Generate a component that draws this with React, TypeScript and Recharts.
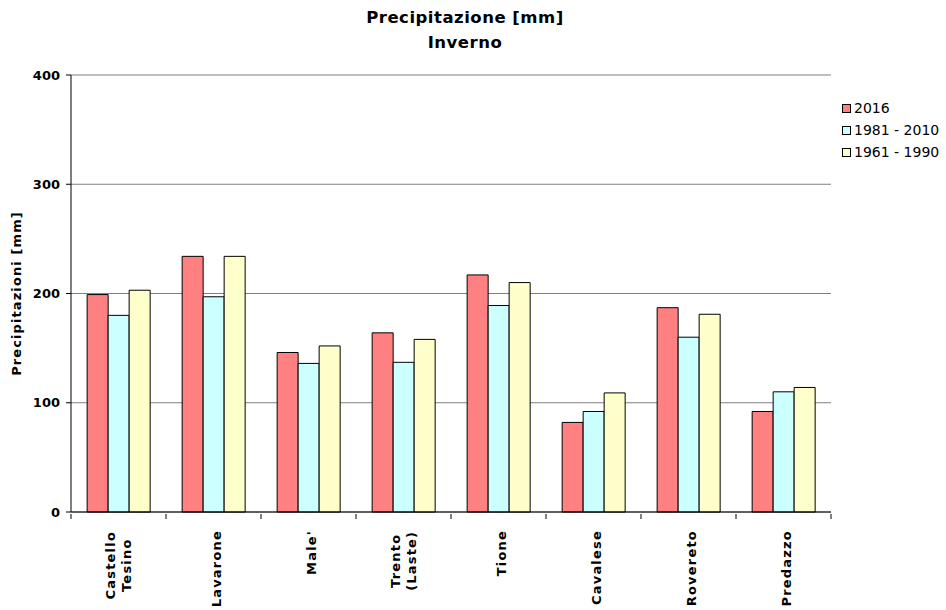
import React from 'react'
import { BarChart, Bar, XAxis, YAxis, CartesianGrid, Legend } from 'recharts'

const stazioni = ['Castello Tesino', 'Lavarone', "Male'", 'Trento (Laste)', 'Tione', 'Cavalese', 'Rovereto', 'Predazzo']
const anno2016 = [199, 234, 146, 164, 217, 82, 187, 92]
const media8110 = [180, 197, 136, 137, 189, 92, 160, 110]
const media6190 = [203, 234, 152, 158, 210, 109, 181, 114]
const tickY = [0, 100, 200, 300, 400]

const serie = [
  { key: 'a2016', nome: '2016', colore: '#FF8080' },
  { key: 'a8110', nome: '1981 - 2010', colore: '#CCFFFF' },
  { key: 'a6190', nome: '1961 - 1990', colore: '#FFFFCC' },
]

const FONT = '"DejaVu Sans", Verdana, sans-serif'
const W = 946
const H = 610
const PLOT_L = 71
const PLOT_R = 831
const BANDA = (PLOT_R - PLOT_L) / stazioni.length

const dati = stazioni.map((s, i) => ({
  stazione: s,
  a2016: anno2016[i],
  a8110: media8110[i],
  a6190: media6190[i],
}))

function TickStazione(props: any) {
  const { x, y, payload, index } = props
  const nome: string = payload.value
  const righe = nome.includes(' ') ? nome.split(' ') : [nome]
  const top = y + 16
  const lx = x - BANDA / 2
  const maxLen = Math.max(...righe.map((r) => r.length)) * 8.8
  return (
    <g>
      <line x1={lx} y1={y} x2={lx} y2={y + 5} stroke="#000" />
      {index === stazioni.length - 1 && (
        <line x1={x + BANDA / 2} y1={y} x2={x + BANDA / 2} y2={y + 5} stroke="#000" />
      )}
      {righe.length === 1 ? (
        <text
          x={x + 7}
          y={top}
          transform={`rotate(-90, ${x + 7}, ${top})`}
          textAnchor="end"
          fontFamily={FONT}
          fontWeight="bold"
          fontSize={13}
          letterSpacing={1.2}
          fill="#000"
        >
          {nome}
        </text>
      ) : (
        righe.map((r, k) => {
          const bx = x - 3 + (k - (righe.length - 1) / 2) * 16 + 8
          const cy = top + maxLen / 2
          return (
            <text
              key={k}
              x={bx}
              y={cy}
              transform={`rotate(-90, ${bx}, ${cy})`}
              textAnchor="middle"
              fontFamily={FONT}
              fontWeight="bold"
              fontSize={13}
              letterSpacing={1.2}
              fill="#000"
            >
              {r}
            </text>
          )
        })
      )}
    </g>
  )
}

function Legenda() {
  return (
    <div style={{ fontFamily: FONT, fontSize: 14, color: '#000' }}>
      {serie.map((s) => (
        <div key={s.key} style={{ display: 'flex', alignItems: 'center', height: 22 }}>
          <span
            style={{
              display: 'inline-block',
              width: 7,
              height: 7,
              background: s.colore,
              border: '1px solid #000',
              marginRight: 3,
            }}
          />
          {s.nome}
        </div>
      ))}
    </div>
  )
}

export default function App() {
  return (
    <div style={{ position: 'fixed', left: 0, top: 0, width: W, height: H, background: '#fff' }}>
      <div
        style={{
          position: 'absolute',
          left: 0,
          width: 930,
          top: 6,
          textAlign: 'center',
          fontFamily: FONT,
          fontWeight: 'bold',
          fontSize: 16.5,
          letterSpacing: 0.5,
          lineHeight: '24.5px',
          color: '#000',
        }}
      >
        Precipitazione [mm]
        <br />
        Inverno
      </div>
      <BarChart
        width={W}
        height={H}
        data={dati}
        margin={{ top: 75, right: W - PLOT_R, left: 11, bottom: 8 }}
        barCategoryGap="17%"
        barGap={0}
      >
        <CartesianGrid stroke="#808080" vertical={false} />
        <XAxis
          dataKey="stazione"
          interval={0}
          height={90}
          tickLine={false}
          tickSize={0}
          axisLine={{ stroke: '#000' }}
          tick={<TickStazione />}
        />
        <YAxis
          domain={[0, 400]}
          ticks={tickY}
          width={60}
          tickSize={5}
          tickMargin={6}
          axisLine={{ stroke: '#000' }}
          tickLine={{ stroke: '#000' }}
          tick={{ fontFamily: FONT, fontWeight: 'bold', fontSize: 13, fill: '#000' }}
          label={{
            value: 'Precipitazioni [mm]',
            angle: -90,
            position: 'insideLeft',
            dx: 0,
            style: { fontFamily: FONT, fontWeight: 'bold', fontSize: 13, fill: '#000', letterSpacing: 1.1, textAnchor: 'middle' },
          }}
        />
        <YAxis
          yAxisId="bordo"
          orientation="right"
          domain={[0, 400]}
          width={0}
          tick={false}
          tickLine={false}
          axisLine={{ stroke: '#808080' }}
        />
        <Legend
          layout="vertical"
          align="center"
          verticalAlign="middle"
          wrapperStyle={{ position: 'absolute', left: 842, top: 97, width: 104 }}
          content={() => <Legenda />}
        />
        {serie.map((s) => (
          <Bar
            key={s.key}
            dataKey={s.key}
            name={s.nome}
            fill={s.colore}
            stroke="#000"
            strokeWidth={1}
            isAnimationActive={false}
          />
        ))}
      </BarChart>
    </div>
  )
}
